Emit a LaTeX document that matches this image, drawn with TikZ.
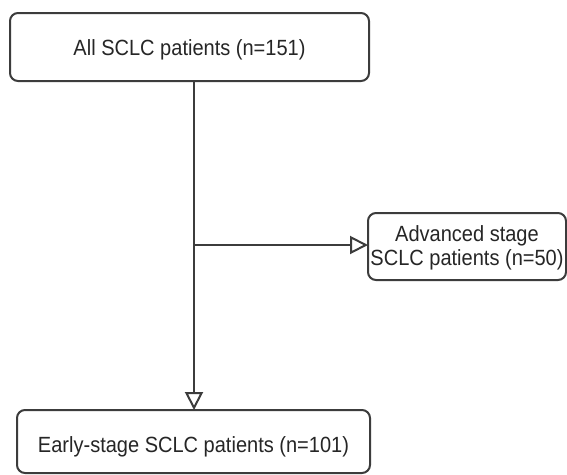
\documentclass[tikz,border=0pt]{standalone}
\usepackage{fontspec}
\setmainfont[FakeStretch=0.91]{Liberation Sans}
\usetikzlibrary{arrows.meta}
\definecolor{edgegray}{HTML}{3C3C3C}
\definecolor{inkgray}{HTML}{262626}
\begin{document}
\begin{tikzpicture}[x=1pt, y=-1pt,
    box/.style={draw=edgegray, line width=2pt, rounded corners=8pt, fill=white,
                inner sep=0pt, outer sep=0pt},
    caption/.style={text=inkgray, font=\fontsize{22}{24}\selectfont, inner sep=0pt,
                    align=center, anchor=base},
    flow/.style={draw=edgegray, line width=2pt},
    flowarrow/.style={flow, -{Triangle[open, length=18pt, width=18pt, fill=white]}}]
  \useasboundingbox[fill=white] (0,0) rectangle (567,474);

  % boxes
  \node[box, minimum width=359pt, minimum height=68pt] (all) at (189.5,47) {};
  \node[box, minimum width=198pt, minimum height=67pt] (adv) at (467,246.5) {};
  \node[box, minimum width=353pt, minimum height=63pt] (early) at (193.5,441.5) {};

  % captions
  \node[caption] (allT) at (189.5,55) {All SCLC patients (n=151)};
  \node[caption] (advT1) at (467,241) {Advanced stage};
  \node[caption] (advT2) at (467,265) {SCLC patients (n=50)};
  \node[caption] (earlyT) at (193.5,452) {Early-stage SCLC patients (n=101)};

  % connectors
  \coordinate (split) at (194,245);
  \draw[flowarrow] (all.south -| split) -- (early.north -| split);
  \draw[flowarrow] (split) -- (adv.west |- split);
\end{tikzpicture}
\end{document}
